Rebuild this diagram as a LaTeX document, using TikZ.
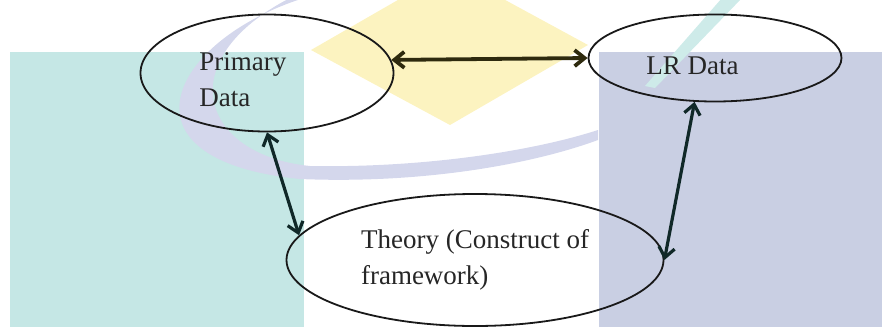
\documentclass[tikz,border=0pt]{standalone}
\usepackage{fontspec}
\setmainfont{Liberation Serif}
\usepackage{xcolor}
\usetikzlibrary{arrows.meta,shapes.geometric,positioning}
\definecolor{tealbg}{RGB}{197,231,229}
\definecolor{purplebg}{RGB}{201,207,227}
\definecolor{yellowbg}{RGB}{252,243,192}
\definecolor{arcbg}{RGB}{212,215,236}
\definecolor{olivedark}{RGB}{46,42,14}
\definecolor{tealdark}{RGB}{16,40,40}
\tikzset{
  oval/.style={ellipse, draw=black!90, line width=0.9pt, inner sep=0pt},
  txt/.style={font=\fontsize{13.5}{18}\selectfont, align=left, inner sep=0pt, text=black!85},
  link/.style={line width=1.6pt, {Straight Barb[length=5pt,width=8pt]}-{Straight Barb[length=5pt,width=8pt]}},
  every picture/.style={line cap=round, line join=round}
}

\begin{document}
\begin{tikzpicture}[x=0.5pt, y=-0.5pt]
  \useasboundingbox (0,0) rectangle (882,327);
  \clip (0,0) rectangle (882,327);

  % watermark behind the diagram
  \fill[tealbg] (10,52) rectangle (304,327);
  \fill[purplebg] (599,52) rectangle (882,327);
  \fill[yellowbg] (311,50) -- (450,-30) -- (588,45) -- (450,125) -- cycle;
  \fill[arcbg] (304,-2) .. controls (170,40) and (110,160) .. (300,179)
    .. controls (420,184) and (530,165) .. (598,140) -- (598,130)
    .. controls (530,152) and (420,168) .. (310,166)
    .. controls (200,155) and (170,60) .. (290,-2) -- cycle;
  \fill[tealbg!85] (722,-2) -- (742,-2) -- (655,88) -- (645,86) -- cycle;

  \node[oval, minimum width=126.5pt, minimum height=58.5pt] (primary) at (267,73) {};
  \node[oval, minimum width=126.5pt, minimum height=43.5pt] (lr) at (715,58) {};
  \node[oval, minimum width=188.5pt, minimum height=66pt, txt] (theory) at (475,260)
    {Theory (Construct of\\framework)};

  \node[txt, anchor=west] (primarylbl) at (199,80) {Primary\\Data};
  \node[txt, anchor=west] (lrlbl) at (646,66) {LR Data};

  \draw[link, olivedark, line width=1.9pt] (primary.6) -- (lr.west);
  \draw[link, tealdark] (primary.south) -- (theory.172);
  \draw[link, tealdark] (lr.245) -- (theory.east);
\end{tikzpicture}
\end{document}
